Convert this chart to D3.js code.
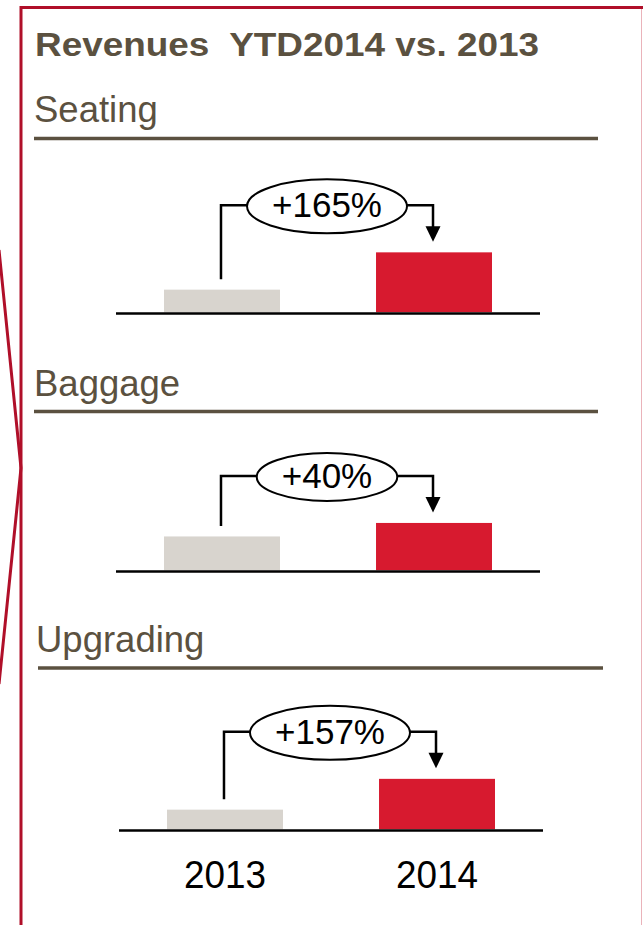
<!DOCTYPE html>
<html>
<head>
<meta charset="utf-8">
<script src="https://cdn.jsdelivr.net/npm/d3@7"></script>
<style>
  html, body { margin: 0; padding: 0; background: #fff; }
  svg { display: block; font-family: "Liberation Sans", Arial, sans-serif; }
</style>
</head>
<body>
<svg id="chart" width="643" height="925"></svg>
<script>
// Revenue by category, 2013 vs 2014 (same units across panels)
const title = "Revenues  YTD2014 vs. 2013";
const categories = ["Seating", "Baggage", "Upgrading"];
const years = ["2013", "2014"];
const values2013 = [22.6, 33.8, 19.6];
const values2014 = [59.9, 47.3, 50.4];
const changeLabels = ["+165%", "+40%", "+157%"];

// Panel placement
const panelLayout = [
  { axisY: 313.5, dx: 0, titleY: 122, ruleY: 138.5, ruleX: [34, 598] },
  { axisY: 571.5, dx: 0, titleY: 396, ruleY: 411.5, ruleX: [34, 598] },
  { axisY: 830.5, dx: 3, titleY: 652, ruleY: 668, ruleX: [38, 603] }
];

const brown = "#5b5140";
const red = "#d71a2f";
const grey = "#d8d4ce";
const frame = "#b00f29";

const svg = d3.select("#chart");

// Frame lines
svg.append("line").attr("x1", 20).attr("x2", 643).attr("y1", 7.5).attr("y2", 7.5)
  .attr("stroke", frame).attr("stroke-width", 3);
svg.append("line").attr("x1", 21).attr("x2", 21).attr("y1", 6).attr("y2", 925)
  .attr("stroke", frame).attr("stroke-width", 3);
svg.append("line").attr("x1", 641.5).attr("x2", 641.5).attr("y1", 9).attr("y2", 925)
  .attr("stroke", "#eab3ba").attr("stroke-width", 1);
svg.append("path").attr("d", "M-1,250 L21,468 L-1,684")
  .attr("fill", "none").attr("stroke", frame).attr("stroke-width", 3);

// Title
svg.append("text").attr("x", 35).attr("y", 56)
  .style("white-space", "pre")
  .attr("font-size", 33).attr("font-weight", "bold").attr("fill", brown)
  .attr("textLength", 504).attr("lengthAdjust", "spacingAndGlyphs")
  .text(title);

const x = d3.scaleBand().domain(years).range([116, 540])
  .paddingInner(0.453).paddingOuter(0.2264);
const h = d3.scaleLinear().domain([0, 100]).range([0, 100]);

categories.forEach((cat, i) => {
  const L = panelLayout[i];
  const g = svg.append("g").attr("transform", `translate(${L.dx},0)`);
  const vals = [values2013[i], values2014[i]];
  const base = L.axisY - 1.25;

  // Section heading and rule
  svg.append("text").attr("x", 34 + (L.dx ? 2 : 0)).attr("y", L.titleY)
    .attr("font-size", 36.5).attr("fill", brown).text(cat);
  svg.append("line").attr("x1", L.ruleX[0]).attr("x2", L.ruleX[1])
    .attr("y1", L.ruleY).attr("y2", L.ruleY)
    .attr("stroke", brown).attr("stroke-width", 3.5);

  // Bars
  g.selectAll("rect.bar").data(years).join("rect")
    .attr("class", "bar")
    .attr("x", d => x(d))
    .attr("width", x.bandwidth())
    .attr("y", (d, j) => base - h(vals[j]))
    .attr("height", (d, j) => h(vals[j]))
    .attr("fill", (d, j) => j === 0 ? grey : red);

  // Baseline
  g.append("line").attr("x1", x.range()[0]).attr("x2", x.range()[1])
    .attr("y1", L.axisY).attr("y2", L.axisY)
    .attr("stroke", "#000").attr("stroke-width", 2.5);

  // Change connector
  const x0 = x(years[0]) + x.bandwidth() / 2 - 1;
  const x1 = x(years[1]) + x.bandwidth() / 2 - 1;
  const top0 = base - h(vals[0]);
  const top1 = base - h(vals[1]);
  const cy = top1 - 47;
  const cx = (x0 + x1) / 2;

  const label = g.append("text").attr("x", cx).attr("y", cy + 12)
    .attr("text-anchor", "middle").attr("font-size", 35).attr("fill", "#000")
    .text(changeLabels[i]);
  const tw = label.node().getComputedTextLength();
  const rx = tw / 2 + 25;
  const ry = tw > 100 ? 27 : 24;

  g.append("path")
    .attr("d", `M${x0},${top0 - 10.5} V${cy} H${cx - rx} M${cx + rx},${cy} H${x1} V${top1 - 24}`)
    .attr("fill", "none").attr("stroke", "#000").attr("stroke-width", 2.5);
  g.append("path")
    .attr("d", `M${x1 - 7.5},${top1 - 26} L${x1 + 7.5},${top1 - 26} L${x1},${top1 - 10.5} Z`)
    .attr("fill", "#000");
  g.insert("ellipse", "text").attr("cx", cx).attr("cy", cy + 1).attr("rx", rx).attr("ry", ry)
    .attr("fill", "#fff").attr("stroke", "#000").attr("stroke-width", 2);
});

// Year labels under the last panel
const last = panelLayout[panelLayout.length - 1];
svg.append("g").attr("transform", `translate(${last.dx},0)`)
  .selectAll("text.year").data(years).join("text")
  .attr("class", "year")
  .attr("x", d => x(d) + x.bandwidth() / 2)
  .attr("y", 888)
  .attr("text-anchor", "middle")
  .attr("font-size", 39).attr("fill", "#000")
  .attr("textLength", 82).attr("lengthAdjust", "spacingAndGlyphs")
  .text(d => d);
</script>
</body>
</html>
